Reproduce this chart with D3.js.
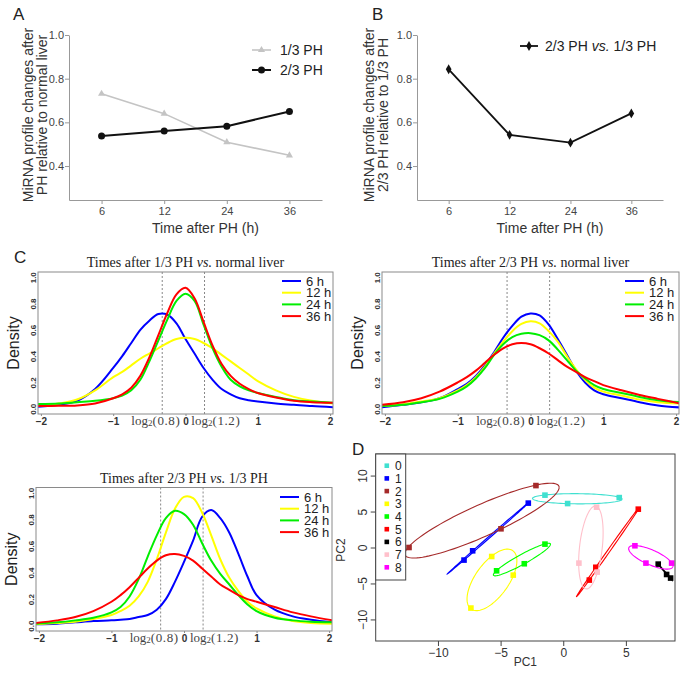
<!DOCTYPE html>
<html>
<head>
<meta charset="utf-8">
<script src="https://cdnjs.cloudflare.com/ajax/libs/d3/7.8.5/d3.min.js"></script>
<style>
body { margin: 0; background: #fff; }
svg { display: block; }
text { font-family: "Liberation Sans", Arial, sans-serif; }
.serif { font-family: "Liberation Serif", "Times New Roman", serif; }
</style>
</head>
<body>
<svg id="fig" width="685" height="681"></svg>
<script>

// ---- panels A and B ----
var hours = [6, 12, 24, 36];
var oneThirdPH = [0.731, 0.640, 0.509, 0.449];
var twoThirdPH = [0.538, 0.560, 0.582, 0.650];
var twoVsOne = [0.843, 0.543, 0.507, 0.641];
var abTicks = [0.4, 0.6, 0.8, 1.0];

// ---- panel C density curves ----
var densX = [-2.05, -1.75, -1.5, -1.25, -1, -0.875, -0.75, -0.625, -0.5, -0.375, -0.25, -0.125, 0,
             0.125, 0.25, 0.375, 0.5, 0.625, 0.75, 0.875, 1, 1.25, 1.5, 1.75, 2.05];
var timeLabels = ["6 h", "12 h", "24 h", "36 h"];
var timeColors = ["#0000ff", "#ffff00", "#00ee00", "#ff0000"];

var c1_6h  = [0.015, 0.03, 0.06, 0.15, 0.31, 0.40, 0.50, 0.60, 0.67, 0.72, 0.715, 0.65, 0.53, 0.42, 0.31, 0.22, 0.15, 0.11, 0.08, 0.065, 0.055, 0.04, 0.03, 0.02, 0.012];
var c1_12h = [0.025, 0.04, 0.07, 0.14, 0.24, 0.28, 0.33, 0.38, 0.42, 0.46, 0.50, 0.53, 0.54, 0.53, 0.50, 0.46, 0.41, 0.36, 0.31, 0.26, 0.21, 0.14, 0.09, 0.06, 0.04];
var c1_24h = [0.035, 0.04, 0.05, 0.06, 0.08, 0.10, 0.14, 0.22, 0.36, 0.52, 0.68, 0.82, 0.875, 0.82, 0.64, 0.46, 0.32, 0.22, 0.17, 0.14, 0.12, 0.09, 0.065, 0.055, 0.045];
var c1_36h = [0.02, 0.022, 0.025, 0.04, 0.08, 0.11, 0.16, 0.25, 0.39, 0.56, 0.73, 0.87, 0.92, 0.84, 0.66, 0.48, 0.34, 0.25, 0.19, 0.15, 0.12, 0.085, 0.06, 0.05, 0.045];

var c2_6h  = [0.01, 0.03, 0.05, 0.08, 0.15, 0.19, 0.25, 0.33, 0.43, 0.54, 0.63, 0.70, 0.725, 0.71, 0.64, 0.53, 0.41, 0.29, 0.20, 0.14, 0.11, 0.08, 0.05, 0.025, 0.01];
var c2_12h = [0.02, 0.035, 0.055, 0.08, 0.14, 0.18, 0.24, 0.32, 0.42, 0.51, 0.59, 0.645, 0.665, 0.65, 0.59, 0.51, 0.40, 0.30, 0.22, 0.16, 0.13, 0.10, 0.07, 0.05, 0.04];
var c2_24h = [0.02, 0.03, 0.05, 0.075, 0.13, 0.17, 0.23, 0.31, 0.41, 0.49, 0.545, 0.57, 0.575, 0.56, 0.52, 0.45, 0.37, 0.29, 0.23, 0.18, 0.15, 0.12, 0.09, 0.065, 0.05];
var c2_36h = [0.03, 0.05, 0.08, 0.13, 0.20, 0.24, 0.29, 0.35, 0.41, 0.46, 0.49, 0.50, 0.49, 0.46, 0.42, 0.37, 0.32, 0.28, 0.24, 0.21, 0.18, 0.14, 0.105, 0.075, 0.04];

var c3_6h  = [0.01, 0.015, 0.025, 0.035, 0.04, 0.045, 0.05, 0.065, 0.08, 0.12, 0.20, 0.33, 0.48, 0.64, 0.82, 0.87, 0.81, 0.70, 0.54, 0.37, 0.23, 0.12, 0.07, 0.045, 0.025];
var c3_12h = [0.01, 0.02, 0.03, 0.05, 0.08, 0.11, 0.15, 0.22, 0.33, 0.50, 0.70, 0.88, 0.97, 0.96, 0.85, 0.68, 0.50, 0.36, 0.26, 0.18, 0.13, 0.07, 0.035, 0.02, 0.015];
var c3_24h = [0.015, 0.025, 0.04, 0.06, 0.10, 0.14, 0.22, 0.35, 0.52, 0.68, 0.81, 0.865, 0.84, 0.76, 0.62, 0.49, 0.39, 0.31, 0.23, 0.16, 0.11, 0.06, 0.04, 0.03, 0.025];
var c3_36h = [0.02, 0.04, 0.065, 0.11, 0.18, 0.23, 0.29, 0.36, 0.43, 0.49, 0.53, 0.54, 0.525, 0.49, 0.43, 0.37, 0.31, 0.27, 0.23, 0.20, 0.18, 0.14, 0.10, 0.07, 0.04];

var densTicksX = [-2, -1, 0, 1, 2];
var densTicksY = [0, 0.2, 0.4, 0.6, 0.8, 1.0];
var cutoffs = [Math.log2(0.8), Math.log2(1.2)];
var cutoffText = ["(0.8)", "(1.2)"];
var cutoffTextX = [-0.41, 0.42];

// ---- panel D PCA ----
var groups = ["0", "1", "2", "3", "4", "5", "6", "7", "8"];
var groupColors = ["#40e0d0", "#0000ff", "#a52a2a", "#ffff00", "#00ff00", "#ff0000", "#000000", "#ffc0cb", "#ff00ff"];
var pc1 = [
  [-1.46, 0.35, 4.47],
  [-2.79, -7.23, -7.92],
  [-12.31, -4.97, -2.18],
  [-5.71, -7.37, -3.99],
  [-5.32, -3.11, -1.46],
  [2.08, 2.60, 5.99],
  [7.58, 8.25, 8.57],
  [2.66, 1.25, 2.71],
  [5.72, 6.60, 8.65]
];
var pc2 = [
  [7.28, 6.11, 6.94],
  [6.17, -0.46, -1.75],
  [0.00, 2.60, 8.61],
  [-1.25, -8.42, -3.84],
  [-3.24, -2.26, 0.47],
  [-4.53, -2.75, 5.33],
  [-2.31, -3.75, -4.25],
  [5.61, -2.17, -3.42],
  [0.24, -2.17, -2.17]
];
var pcTicksX = [-10, -5, 0, 5];
var pcTicksY = [-10, -5, 0, 5, 10];

var svg = d3.select("#fig");

function panelLetter(x, y, s) {
  svg.append("text").attr("x", x).attr("y", y).attr("font-size", 17).attr("fill", "#222").text(s);
}

function styleAxis(g) {
  g.selectAll("path, line").attr("stroke", "#999").attr("stroke-width", 1);
  g.selectAll("text").attr("fill", "#444").attr("font-size", 11).attr("font-family", "Liberation Sans, Arial, sans-serif");
}

function lineChart(left, right, ylab1, ylab2, labX) {
  var x = d3.scalePoint().domain(hours).range([left, right]).padding(0.52);
  var y = d3.scaleLinear().domain([0.2445, 1.0]).range([200, 35]);
  var gx = svg.append("g").attr("transform", "translate(0,200)")
    .call(d3.axisBottom(x).tickSize(4).tickSizeOuter(0).tickPadding(3));
  styleAxis(gx);
  var gy = svg.append("g").attr("transform", "translate(" + left + ",0)")
    .call(d3.axisLeft(y).tickValues(abTicks).tickFormat(d3.format(".1f")).tickSize(4).tickSizeOuter(0).tickPadding(1));
  styleAxis(gy);
  svg.append("text").attr("x", (left + right) / 2 + 10).attr("y", 233).attr("text-anchor", "middle")
    .attr("font-size", 14).attr("fill", "#333").text("Time after PH (h)");
  [ylab1, ylab2].forEach(function (s, i) {
    svg.append("text").attr("transform", "translate(" + (labX + i * 14) + ",115) rotate(-90)")
      .attr("text-anchor", "middle").attr("dy", "0.35em").attr("font-size", 14).attr("fill", "#333").text(s);
  });
  return { x: x, y: y };
}

// Panel A
panelLetter(13, 20, "A");
var a = lineChart(69, 322, "MiRNA profile changes after", "PH relative to normal liver", 28);
var lineA = d3.line().x(function (d, i) { return a.x(hours[i]); }).y(function (d) { return a.y(d); });
svg.append("path").attr("d", lineA(oneThirdPH)).attr("fill", "none").attr("stroke", "#c4c4c4").attr("stroke-width", 1.6);
svg.selectAll(".triA").data(oneThirdPH).enter().append("path")
  .attr("d", d3.symbol().type(d3.symbolTriangle).size(22))
  .attr("transform", function (d, i) { return "translate(" + a.x(hours[i]) + "," + a.y(d) + ")"; })
  .attr("fill", "#c4c4c4");
svg.append("path").attr("d", lineA(twoThirdPH)).attr("fill", "none").attr("stroke", "#111").attr("stroke-width", 2);
svg.selectAll(".dotA").data(twoThirdPH).enter().append("circle")
  .attr("cx", function (d, i) { return a.x(hours[i]); }).attr("cy", function (d) { return a.y(d); })
  .attr("r", 3.5).attr("fill", "#111");
// legend A
svg.append("line").attr("x1", 252).attr("x2", 271).attr("y1", 50).attr("y2", 50).attr("stroke", "#c4c4c4").attr("stroke-width", 1.6);
svg.append("path").attr("d", d3.symbol().type(d3.symbolTriangle).size(22)).attr("transform", "translate(261.5,50)").attr("fill", "#c4c4c4");
svg.append("text").attr("x", 280).attr("y", 55).attr("font-size", 14).attr("fill", "#222").text("1/3 PH");
svg.append("line").attr("x1", 252).attr("x2", 271).attr("y1", 70).attr("y2", 70).attr("stroke", "#111").attr("stroke-width", 2);
svg.append("circle").attr("cx", 261.5).attr("cy", 70).attr("r", 3.5).attr("fill", "#111");
svg.append("text").attr("x", 280).attr("y", 75).attr("font-size", 14).attr("fill", "#222").text("2/3 PH");

// Panel B
panelLetter(372, 20, "B");
var b = lineChart(417, 663, "MiRNA profile changes after", "2/3 PH relative to 1/3 PH", 369);
var lineB = d3.line().x(function (d, i) { return b.x(hours[i]); }).y(function (d) { return b.y(d); });
svg.append("path").attr("d", lineB(twoVsOne)).attr("fill", "none").attr("stroke", "#111").attr("stroke-width", 1.8);
svg.selectAll(".diaB").data(twoVsOne).enter().append("path")
  .attr("d", d3.symbol().type(d3.symbolDiamond).size(28))
  .attr("transform", function (d, i) { return "translate(" + b.x(hours[i]) + "," + b.y(d) + ")"; })
  .attr("fill", "#111");
svg.append("line").attr("x1", 520).attr("x2", 538).attr("y1", 46).attr("y2", 46).attr("stroke", "#111").attr("stroke-width", 1.8);
svg.append("path").attr("d", d3.symbol().type(d3.symbolDiamond).size(28)).attr("transform", "translate(529,46)").attr("fill", "#111");
var tb = svg.append("text").attr("x", 545).attr("y", 51).attr("font-size", 14).attr("fill", "#222");
tb.append("tspan").text("2/3 PH ");
tb.append("tspan").attr("font-style", "italic").text("vs.");
tb.append("tspan").text(" 1/3 PH");

// Panel C density plots
function densityPlot(box, titleParts, series, legendX, legendY) {
  var x = d3.scaleLinear().domain([-2.04, 2.04]).range([box.l, box.r]);
  var y = d3.scaleLinear().domain([-0.04, 1.04]).range([box.b, box.t]);
  var clipId = "clip" + Math.round(box.l) + "_" + Math.round(box.t);
  svg.append("clipPath").attr("id", clipId).append("rect")
    .attr("x", box.l).attr("y", box.t).attr("width", box.r - box.l).attr("height", box.b - box.t);

  // dotted cut-off lines
  svg.selectAll(null).data(cutoffs).enter().append("line")
    .attr("x1", function (d) { return x(d); }).attr("x2", function (d) { return x(d); })
    .attr("y1", box.t).attr("y2", box.b)
    .attr("stroke", "#888").attr("stroke-width", 1).attr("stroke-dasharray", "2,2");

  var line = d3.line().curve(d3.curveCatmullRom.alpha(0.5))
    .x(function (d, i) { return x(densX[i]); }).y(function (d) { return y(d); });
  var gc = svg.append("g").attr("clip-path", "url(#" + clipId + ")");
  series.forEach(function (s, k) {
    gc.append("path").attr("d", line(s)).attr("fill", "none")
      .attr("stroke", timeColors[k]).attr("stroke-width", 2);
  });

  // box
  svg.append("rect").attr("x", box.l).attr("y", box.t).attr("width", box.r - box.l).attr("height", box.b - box.t)
    .attr("fill", "none").attr("stroke", "#8a8a8a").attr("stroke-width", 1);

  // axes
  var gx = svg.append("g").attr("transform", "translate(0," + box.b + ")")
    .call(d3.axisBottom(x).tickValues(densTicksX).tickFormat(d3.format("d")).tickSize(2).tickSizeOuter(0).tickPadding(2));
  gx.select(".domain").remove();
  gx.selectAll("line").attr("stroke", "#8a8a8a");
  gx.selectAll("text").attr("font-size", 10).attr("font-weight", "bold").attr("fill", "#333");

  var gy = svg.append("g").attr("transform", "translate(" + box.l + ",0)")
    .call(d3.axisLeft(y).tickValues(densTicksY).tickFormat(d3.format(".1f")).tickSize(0));
  gy.select(".domain").remove();
  gy.selectAll("text").attr("transform", "rotate(-90)").attr("x", 0).attr("y", -2).attr("dy", 0)
    .attr("text-anchor", "middle").attr("font-size", 8).attr("font-weight", "bold").attr("fill", "#333");

  // log2 labels
  cutoffText.forEach(function (s, i) {
    var t = svg.append("text").attr("class", "serif").attr("x", x(cutoffTextX[i])).attr("y", box.b + 11)
      .attr("text-anchor", "middle").attr("font-size", 13).attr("fill", "#444");
    t.append("tspan").text("log");
    t.append("tspan").attr("font-size", 9).attr("dy", 1).text("2");
    t.append("tspan").attr("dy", -1).attr("letter-spacing", 0.6).text(s);
  });

  // title
  var tt = svg.append("text").attr("class", "serif").attr("x", (box.l + box.r) / 2).attr("y", box.t - 5)
    .attr("text-anchor", "middle").attr("font-size", 14).attr("fill", "#222");
  tt.append("tspan").text(titleParts[0]);
  tt.append("tspan").attr("font-style", "italic").text("vs.");
  tt.append("tspan").text(titleParts[1]);

  // y label
  svg.append("text").attr("transform", "translate(" + (box.l - 25) + "," + ((box.t + box.b) / 2) + ") rotate(-90)")
    .attr("text-anchor", "middle").attr("dy", "0.35em").attr("font-size", 16).attr("fill", "#222").text("Density");

  // legend
  timeLabels.forEach(function (s, k) {
    var ly = legendY + k * 11.7;
    svg.append("line").attr("x1", legendX).attr("x2", legendX + 19).attr("y1", ly).attr("y2", ly)
      .attr("stroke", timeColors[k]).attr("stroke-width", 2);
    svg.append("text").attr("x", legendX + 24).attr("y", ly + 4.5).attr("font-size", 13).attr("fill", "#222").text(s);
  });
}

panelLetter(14, 263, "C");
densityPlot({ l: 38, r: 333, t: 272, b: 414 }, ["Times after 1/3 PH ", " normal liver"],
  [c1_6h, c1_12h, c1_24h, c1_36h], 282, 281);
densityPlot({ l: 382, r: 679, t: 272, b: 414 }, ["Times after 2/3 PH ", " normal liver"],
  [c2_6h, c2_12h, c2_24h, c2_36h], 625, 281);
densityPlot({ l: 36, r: 332, t: 487.5, b: 631 }, ["Times after 2/3 PH ", " 1/3 PH"],
  [c3_6h, c3_12h, c3_24h, c3_36h], 280, 497);

// Panel D PCA
panelLetter(352, 455, "D");
var bx = { l: 375.7, r: 675, t: 454, b: 641 };
var xD = d3.scaleLinear().domain([-14.97, 8.92]).range([bx.l, bx.r]);
var yD = d3.scaleLinear().domain([-13, 13]).range([bx.b, bx.t]);
svg.append("clipPath").attr("id", "clipD").append("rect")
  .attr("x", bx.l).attr("y", bx.t).attr("width", bx.r - bx.l).attr("height", bx.b - bx.t);
var gD = svg.append("g").attr("clip-path", "url(#clipD)");

// 50% normal-theory ellipse from each group's covariance
var rad = Math.sqrt(-2 * Math.log(0.5));
function ellipsePts(xs, ys) {
  var n = xs.length, mx = d3.mean(xs), my = d3.mean(ys);
  var sxx = 0, syy = 0, sxy = 0;
  for (var i = 0; i < n; i++) {
    sxx += (xs[i] - mx) * (xs[i] - mx);
    syy += (ys[i] - my) * (ys[i] - my);
    sxy += (xs[i] - mx) * (ys[i] - my);
  }
  sxx /= n - 1; syy /= n - 1; sxy /= n - 1;
  // cholesky of covariance
  var l11 = Math.sqrt(sxx), l21 = sxy / l11, l22 = Math.sqrt(Math.max(syy - l21 * l21, 0));
  return d3.range(0, 101).map(function (k) {
    var t = 2 * Math.PI * k / 100, u = rad * Math.cos(t), v = rad * Math.sin(t);
    return [mx + l11 * u, my + l21 * u + l22 * v];
  });
}
var eLine = d3.line().x(function (d) { return xD(d[0]); }).y(function (d) { return yD(d[1]); });
groups.forEach(function (g, k) {
  gD.append("path").attr("d", eLine(ellipsePts(pc1[k], pc2[k])))
    .attr("fill", "none").attr("stroke", groupColors[k]).attr("stroke-width", 1.1);
  gD.selectAll(null).data(pc1[k]).enter().append("rect")
    .attr("x", function (d) { return xD(d) - 2.8; })
    .attr("y", function (d, i) { return yD(pc2[k][i]) - 2.8; })
    .attr("width", 5.6).attr("height", 5.6).attr("fill", groupColors[k]);
});

svg.append("rect").attr("x", bx.l).attr("y", bx.t).attr("width", bx.r - bx.l).attr("height", bx.b - bx.t)
  .attr("fill", "none").attr("stroke", "#444").attr("stroke-width", 1);
var gxD = svg.append("g").attr("transform", "translate(0," + bx.b + ")")
  .call(d3.axisBottom(xD).tickValues(pcTicksX).tickSize(5).tickSizeOuter(0).tickPadding(2));
gxD.select(".domain").remove();
gxD.selectAll("line").attr("stroke", "#444");
gxD.selectAll("text").attr("font-size", 12).attr("fill", "#333");
var gyD = svg.append("g").attr("transform", "translate(" + bx.l + ",0)")
  .call(d3.axisLeft(yD).tickValues(pcTicksY).tickSize(5).tickSizeOuter(0));
gyD.select(".domain").remove();
gyD.selectAll("line").attr("stroke", "#444");
gyD.selectAll("text").attr("transform", "rotate(-90)").attr("x", 0).attr("y", -9).attr("dy", 0)
  .attr("text-anchor", "middle").attr("font-size", 12).attr("fill", "#333");
svg.append("text").attr("x", (bx.l + bx.r) / 2).attr("y", 666).attr("text-anchor", "middle")
  .attr("font-size", 12).attr("fill", "#333").text("PC1");
svg.append("text").attr("transform", "translate(341,550) rotate(-90)").attr("text-anchor", "middle")
  .attr("dy", "0.35em").attr("font-size", 12).attr("fill", "#333").text("PC2");

// legend D
svg.append("rect").attr("x", bx.l).attr("y", bx.t).attr("width", 30).attr("height", 126)
  .attr("fill", "#fff").attr("stroke", "#444").attr("stroke-width", 1);
groups.forEach(function (g, k) {
  var ly = 465.7 + k * 12.7;
  svg.append("rect").attr("x", 384.5).attr("y", ly - 2.3).attr("width", 4.6).attr("height", 4.6).attr("fill", groupColors[k]);
  svg.append("text").attr("x", 395).attr("y", ly + 4.5).attr("font-size", 12).attr("fill", "#222").text(g);
});

</script>
</body>
</html>
